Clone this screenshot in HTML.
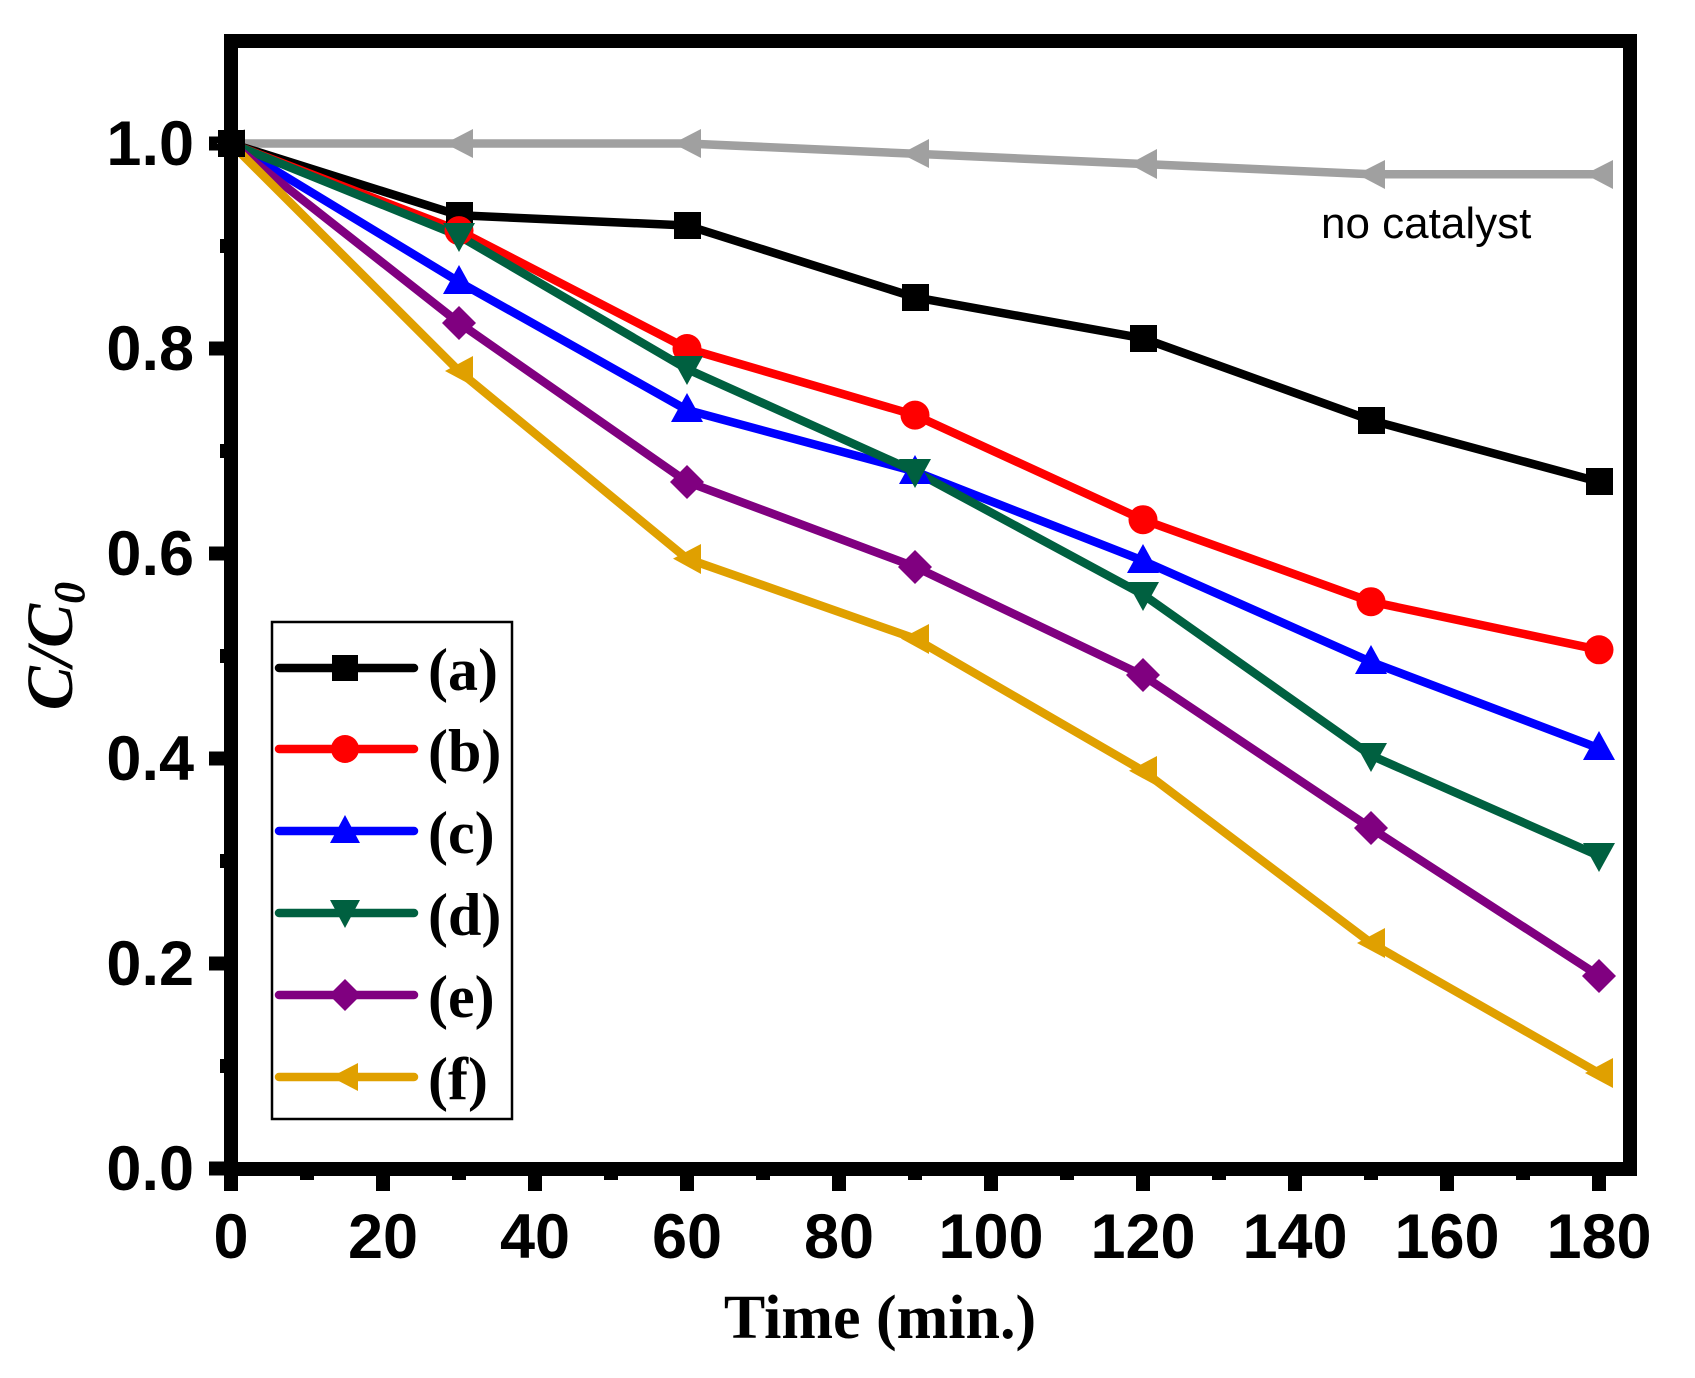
<!DOCTYPE html>
<html><head><meta charset="utf-8"><style>html,body{margin:0;padding:0;background:#fff}svg{display:block}</style></head>
<body>
<svg width="1695" height="1378" viewBox="0 0 1695 1378" xmlns="http://www.w3.org/2000/svg">
<rect x="231" y="41" width="1399" height="1128" fill="none" stroke="#000" stroke-width="14"/>
<g stroke="#000" stroke-width="14">
<line x1="231" y1="1169" x2="231" y2="1191"/><line x1="383" y1="1169" x2="383" y2="1191"/><line x1="535" y1="1169" x2="535" y2="1191"/><line x1="687" y1="1169" x2="687" y2="1191"/><line x1="839" y1="1169" x2="839" y2="1191"/><line x1="991" y1="1169" x2="991" y2="1191"/><line x1="1143" y1="1169" x2="1143" y2="1191"/><line x1="1295" y1="1169" x2="1295" y2="1191"/><line x1="1447" y1="1169" x2="1447" y2="1191"/><line x1="1599" y1="1169" x2="1599" y2="1191"/>
<line x1="307" y1="1169" x2="307" y2="1180"/><line x1="459" y1="1169" x2="459" y2="1180"/><line x1="611" y1="1169" x2="611" y2="1180"/><line x1="763" y1="1169" x2="763" y2="1180"/><line x1="915" y1="1169" x2="915" y2="1180"/><line x1="1067" y1="1169" x2="1067" y2="1180"/><line x1="1219" y1="1169" x2="1219" y2="1180"/><line x1="1371" y1="1169" x2="1371" y2="1180"/><line x1="1523" y1="1169" x2="1523" y2="1180"/>
<line x1="209" y1="1168.5" x2="231" y2="1168.5"/><line x1="209" y1="963.5" x2="231" y2="963.5"/><line x1="209" y1="758.5" x2="231" y2="758.5"/><line x1="209" y1="553.5" x2="231" y2="553.5"/><line x1="209" y1="348.5" x2="231" y2="348.5"/><line x1="209" y1="143.5" x2="231" y2="143.5"/>
<line x1="220" y1="1066" x2="231" y2="1066"/><line x1="220" y1="861" x2="231" y2="861"/><line x1="220" y1="656" x2="231" y2="656"/><line x1="220" y1="451" x2="231" y2="451"/><line x1="220" y1="246" x2="231" y2="246"/>
</g>
<g font-family="Liberation Sans, Arial, sans-serif" font-weight="bold" font-size="63" fill="#000">
<g text-anchor="end">
<text x="194" y="1190">0.0</text><text x="194" y="985">0.2</text><text x="194" y="780">0.4</text><text x="194" y="575">0.6</text><text x="194" y="370">0.8</text><text x="194" y="165">1.0</text>
</g>
<g text-anchor="middle">
<text x="231" y="1258">0</text><text x="383" y="1258">20</text><text x="535" y="1258">40</text><text x="687" y="1258">60</text><text x="839" y="1258">80</text><text x="991" y="1258">100</text><text x="1143" y="1258">120</text><text x="1295" y="1258">140</text><text x="1447" y="1258">160</text><text x="1599" y="1258">180</text>
</g>
</g>
<text x="880" y="1338" text-anchor="middle" font-family="Liberation Serif, Times New Roman, serif" font-weight="bold" font-size="62">Time (min.)</text>
<text transform="translate(72,646) rotate(-90)" text-anchor="middle" font-family="Liberation Serif, Times New Roman, serif" font-weight="bold" font-style="italic" font-size="66">C/C<tspan font-size="44" dy="12">0</tspan></text>
<text x="1321" y="238" font-family="Liberation Sans, Arial, sans-serif" font-size="44" fill="#000">no catalyst</text>

<g fill="none" stroke-width="8.5" stroke-linejoin="round">
<polyline stroke="#a0a0a0" points="231,143.5 459,143.5 687,143.5 915,153.8 1143,164 1371,174.3 1599,174.3"/>
<polyline stroke="#000" points="231,143.5 459,215.3 687,225.5 915,297.3 1143,338.3 1371,420.3 1599,481.8"/>
<polyline stroke="#ff0000" points="231,143.5 459,230.6 687,348.5 915,415.1 1143,519.7 1371,601.7 1599,649.8"/>
<polyline stroke="#0000ff" points="231,143.5 459,281.9 687,410 915,471.5 1143,560.7 1371,662 1599,748.3"/>
<polyline stroke="#006040" points="231,143.5 459,235.8 687,369 915,471.5 1143,594.5 1371,755.4 1599,855.9"/>
<polyline stroke="#800080" points="231,143.5 459,322.9 687,481.8 915,566.8 1143,675.5 1371,828.2 1599,975.8"/>
<polyline stroke="#e0a000" points="231,143.5 459,371.1 687,558.6 915,638.6 1143,770.8 1371,943 1599,1073.2"/>
</g>
<g fill="#a0a0a0">
<polygon points="217,143.5 245,129 245,158"/><polygon points="445,143.5 473,129 473,158"/><polygon points="673,143.5 701,129 701,158"/><polygon points="901,153.8 929,139 929,168"/><polygon points="1129,164 1157,149 1157,179"/><polygon points="1357,174.3 1385,160 1385,189"/><polygon points="1585,174.3 1613,160 1613,189"/>
</g>
<g fill="#000">
<rect x="218" y="130" width="27" height="27"/><rect x="446" y="202" width="27" height="27"/><rect x="674" y="212" width="27" height="27"/><rect x="902" y="284" width="27" height="27"/><rect x="1130" y="325" width="27" height="27"/><rect x="1358" y="407" width="27" height="27"/><rect x="1586" y="468" width="27" height="27"/>
</g>
<g fill="#ff0000">
<circle cx="459" cy="230.6" r="14.5"/><circle cx="687" cy="348.5" r="14.5"/><circle cx="915" cy="415.1" r="14.5"/><circle cx="1143" cy="519.7" r="14.5"/><circle cx="1371" cy="601.7" r="14.5"/><circle cx="1599" cy="649.8" r="14.5"/>
</g>
<g fill="#0000ff">
<polygon points="459,265 443,294 475,294"/><polygon points="687,393 671,422 703,422"/><polygon points="915,455 899,484 931,484"/><polygon points="1143,544 1127,573 1159,573"/><polygon points="1371,645 1355,674 1387,674"/><polygon points="1599,731 1583,760 1615,760"/>
</g>
<g fill="#006040">
<polygon points="459,252 443,223 475,223"/><polygon points="687,385 671,356 703,356"/><polygon points="915,488 899,459 931,459"/><polygon points="1143,611 1127,582 1159,582"/><polygon points="1371,772 1355,743 1387,743"/><polygon points="1599,872 1583,843 1615,843"/>
</g>
<g fill="#800080">
<polygon points="459,306 476,323 459,340 442,323"/><polygon points="687,465 704,482 687,499 670,482"/><polygon points="915,550 932,567 915,584 898,567"/><polygon points="1143,658 1160,675 1143,692 1126,675"/><polygon points="1371,811 1388,828 1371,845 1354,828"/><polygon points="1599,959 1616,976 1599,993 1582,976"/>
</g>
<g fill="#e0a000">
<polygon points="445,371 473,356 473,386"/><polygon points="673,558.6 701,544 701,574"/><polygon points="901,638.6 929,624 929,654"/><polygon points="1129,770.8 1157,756 1157,786"/><polygon points="1357,943 1385,928 1385,958"/><polygon points="1585,1073 1613,1058 1613,1088"/>
</g>
<rect x="272" y="622" width="240" height="497" fill="#fff" stroke="#000" stroke-width="2.5"/>
<g stroke-width="8.5" stroke-linecap="round">
<line x1="279" y1="668" x2="414" y2="668" stroke="#000"/>
<line x1="279" y1="749" x2="414" y2="749" stroke="#ff0000"/>
<line x1="279" y1="831" x2="414" y2="831" stroke="#0000ff"/>
<line x1="279" y1="913" x2="414" y2="913" stroke="#006040"/>
<line x1="279" y1="995" x2="414" y2="995" stroke="#800080"/>
<line x1="279" y1="1077" x2="414" y2="1077" stroke="#e0a000"/>
</g>
<rect x="332" y="655" width="26" height="26" fill="#000"/>
<circle cx="345" cy="749" r="14" fill="#ff0000"/>
<polygon points="345,815 330,843 360,843" fill="#0000ff"/>
<polygon points="345,928 330,900 360,900" fill="#006040"/>
<polygon points="345,979 361,995 345,1011 329,995" fill="#800080"/>
<polygon points="331,1077 358,1063 358,1091" fill="#e0a000"/>
<g font-family="Liberation Serif, Times New Roman, serif" font-weight="bold" font-size="60" fill="#000">
<text x="428" y="690">(a)</text><text x="428" y="771">(b)</text><text x="428" y="853">(c)</text><text x="428" y="935">(d)</text><text x="428" y="1017">(e)</text><text x="428" y="1099">(f)</text>
</g>
</svg>
</body></html>
